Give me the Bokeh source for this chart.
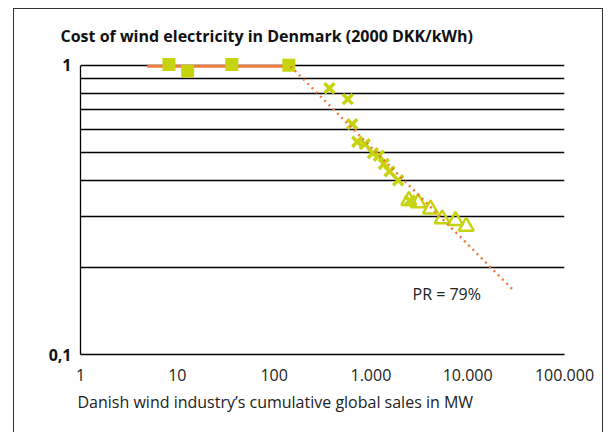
from bokeh.plotting import figure
from bokeh.models import FixedTicker, Label, Range1d, Title
from bokeh.embed import file_html
from bokeh.resources import INLINE

# ---- data ----
sq_x = [8.2, 12.8, 36.6, 142]
sq_y = [1.005, 0.951, 1.005, 0.998]

cross_x = [373, 577, 641, 722, 865, 1047, 1207, 1360, 1556, 1914, 2523]
cross_y = [0.831, 0.762, 0.625, 0.543, 0.533, 0.496, 0.486, 0.455, 0.429, 0.400, 0.340]

tri_x = [2465, 3083, 4130, 5458, 7480, 9653]
tri_y = [0.340, 0.334, 0.318, 0.294, 0.290, 0.277]

flat_x = [4.9, 145]
flat_y = [0.99, 0.99]

curve_x = [148, 29500]
curve_y = [0.99, 0.167]

x_ticks = [1, 10, 100, 1000, 10000, 100000]
x_tick_labels = ["1", "10", "100", "1.000", "10.000", "100.000"]
y_ticks = [0.1, 1]
y_tick_labels = ["0,1", "1"]
y_minor = [0.2, 0.3, 0.4, 0.5, 0.6, 0.7, 0.8, 0.9]

title_text = "Cost of wind electricity in Denmark (2000 DKK/kWh)"
x_label = "Danish wind industry\u2019s cumulative global sales in MW"
pr_text = "PR = 79%"
pr_pos = (2690, 0.162)

FONT = "Open Sans"
GREEN = "#c6d30f"
ORANGE = "#ef7b3e"

p = figure(width=590, height=424, output_backend="svg", toolbar_location=None,
           x_axis_type="log", y_axis_type="log",
           x_range=Range1d(1, 100000), y_range=Range1d(0.1, 1.07),
           min_border_left=66, min_border_right=40, min_border_top=47, min_border_bottom=79,
           margin=(8, 0, 0, 13),
           styles={"border-left": "1px solid #333333", "border-top": "1px solid #333333",
                   "border-right": "1px solid #333333"})
p.outline_line_color = None
p.background_fill_color = "white"
p.border_fill_color = "white"

# title
p.title.text = title_text
p.title.text_font = FONT
p.title.text_font_size = "16px"
p.title.text_font_style = "bold"
p.title.text_color = "#111111"
p.title.align = "left"
p.title.offset = -20
p.title.standoff = 19

# x axis
xa = p.xaxis[0]
xa.ticker = FixedTicker(ticks=x_ticks)
xa.major_label_overrides = {t: l for t, l in zip(x_ticks, x_tick_labels)}
xa.major_tick_in = 0
xa.major_tick_out = 0
xa.minor_tick_in = 0
xa.minor_tick_out = 0
xa.axis_line_color = "black"
xa.axis_line_width = 1.3
xa.major_label_text_font = FONT
xa.major_label_text_font_size = "16px"
xa.major_label_text_color = "#222222"
xa.major_label_standoff = 14

# x-axis caption, left aligned under the axis
cap = Title(text=x_label, align="left", offset=-3, standoff=10,
            text_font=FONT, text_font_size="16px", text_font_style="normal",
            text_color="#222222")
p.add_layout(cap, "below")

# y axis
ya = p.yaxis[0]
ya.ticker = FixedTicker(ticks=y_ticks, minor_ticks=y_minor)
ya.major_label_overrides = {t: l for t, l in zip(y_ticks, y_tick_labels)}
ya.bounds = (0.1, 1)
ya.major_tick_in = 0
ya.major_tick_out = 0
ya.minor_tick_in = 0
ya.minor_tick_out = 0
ya.axis_line_color = "black"
ya.axis_line_width = 1.3
ya.major_label_text_font = FONT
ya.major_label_text_font_size = "16px"
ya.major_label_text_font_style = "bold"
ya.major_label_text_color = "#111111"
ya.major_label_standoff = 9

p.xgrid.grid_line_color = None
p.ygrid.grid_line_color = "black"
p.ygrid.grid_line_width = 1.3
p.ygrid.minor_grid_line_color = "black"
p.ygrid.minor_grid_line_width = 1.3

# series
p.line(flat_x, flat_y, line_color=ORANGE, line_width=3)
p.scatter(sq_x, sq_y, marker="square", size=13, fill_color=GREEN, line_color=None)
p.scatter(cross_x, cross_y, marker="x", size=14, line_color=GREEN, line_width=3.5)
p.scatter(tri_x, tri_y, marker="triangle", size=15, fill_color=None,
          line_color=GREEN, line_width=2.5)
p.line(curve_x, curve_y, line_color=ORANGE, line_width=2.5, line_dash="2 4")

p.add_layout(Label(x=pr_pos[0], y=pr_pos[1], text=pr_text, text_font=FONT,
                   text_font_size="16px", text_color="#222222",
                   text_align="left", text_baseline="middle"))

open("out.html", "w").write(file_html(p, INLINE))
